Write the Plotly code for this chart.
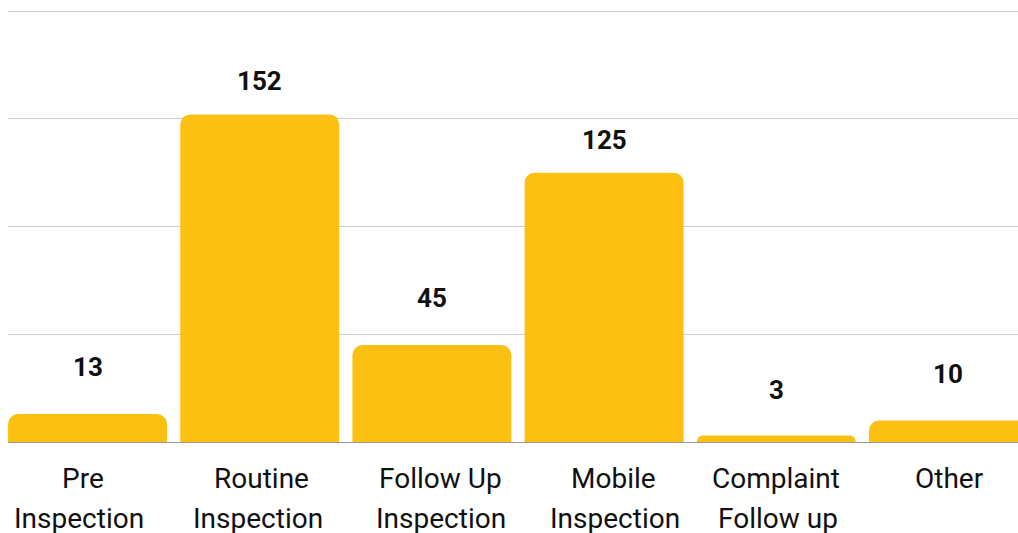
import plotly.graph_objects as go

# category labels, one list entry per category, lines split
label_lines = [["Pre", "Inspection"], ["Routine", "Inspection"], ["Follow Up", "Inspection"],
               ["Mobile", "Inspection"], ["Complaint", "Follow up"], ["Other"]]
categories = [" ".join(l) for l in label_lines]
values = [13, 152, 45, 125, 3, 10]
y_ticks = [0, 50, 100, 150, 200]

# styling only: pixel offsets
value_label_shift = [47, 33, 47, 33, 46, 46]
tick_xshift = [[-5, -9], [2, -2], [9, 9], [9, 11], [0, 2], [1]]
LINE_YSHIFT = [-36, -76.5]

BAR = "#FCC012"
TEXT = "#111111"

x_idx = list(range(len(categories)))

fig = go.Figure(go.Bar(
    x=x_idx,
    y=values,
    marker=dict(color=BAR, line=dict(width=0), cornerradius=10),
    hoverinfo="skip",
))

for i, (v, s) in enumerate(zip(values, value_label_shift)):
    fig.add_annotation(x=i, y=v, text=f"<b>{v}</b>", showarrow=False,
                       yanchor="middle", yshift=s,
                       font=dict(family="Roboto", size=26, color=TEXT))

for i, lines in enumerate(label_lines):
    for j, line in enumerate(lines):
        fig.add_annotation(x=i, y=0, text=line, showarrow=False,
                           xanchor="center", yanchor="middle",
                           xshift=tick_xshift[i][j], yshift=LINE_YSHIFT[j],
                           font=dict(family="Roboto", size=28, color=TEXT))

fig.update_layout(
    width=1018, height=533,
    margin=dict(l=8, r=0, t=9, b=91),
    paper_bgcolor="white", plot_bgcolor="white",
    bargap=0.077,
    showlegend=False,
    font=dict(family="Roboto", color=TEXT),
)
fig.update_xaxes(
    range=[-0.462, 5.404],
    tickmode="array", tickvals=x_idx, ticktext=categories,
    showticklabels=False,
    showgrid=False, showline=False, zeroline=False, ticks="",
)
fig.update_yaxes(
    range=[0, 200.93], tickvals=y_ticks, showticklabels=False,
    showgrid=True, gridcolor="#cccccc", gridwidth=1,
    zeroline=True, zerolinecolor="#999999", zerolinewidth=1,
    ticks="",
)

fig.write_html(
    "out.html",
    config={"displayModeBar": False},
    post_script="document.body.style.margin='0';document.body.style.overflow='hidden';",
)
